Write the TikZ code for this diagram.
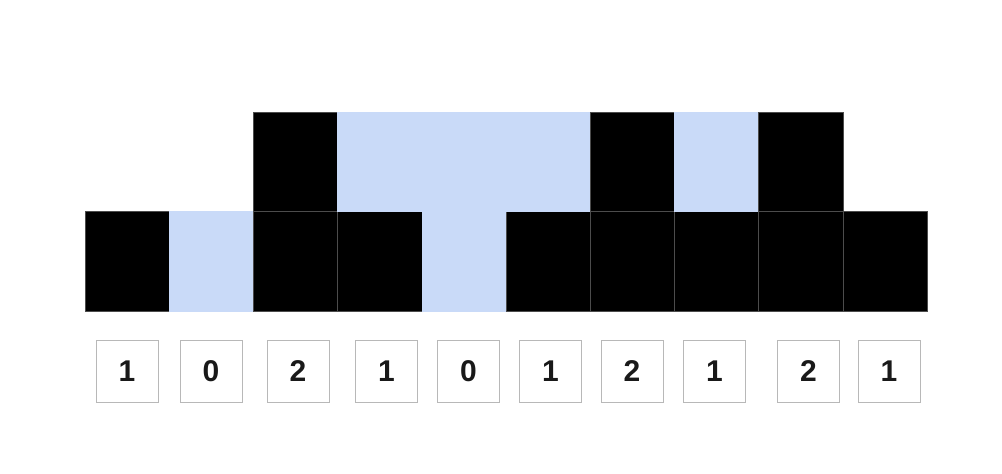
\documentclass[tikz,border=0pt]{standalone}
\usepackage{fontspec}
\setmainfont{Liberation Sans}
\usepackage{tikz}

\begin{document}
\begin{tikzpicture}[x=1pt,y=-1pt,
  every node/.append style={font=\fontsize{30}{30}\selectfont\bfseries}]
  \tikzstyle{wall} = [fill=black,draw=black!70,line width=0.5pt]
  \tikzstyle{water} = [fill=waterblue,draw=waterblue,line width=0.5pt]
  \tikzstyle{height} = [draw=black!28,line width=0.8pt,fill=white,minimum size=62pt,inner sep=0pt,text=black!90]
  \definecolor{waterblue}{HTML}{C9DAF8}
  \useasboundingbox (0,0) rectangle (1002,474);
  % bottom row
  \path[wall]  (85,211.5) rectangle (169.2,311);
  \path[water] (169.2,211.5) rectangle (253.4,311);
  \path[wall]  (253.4,211.5) rectangle (337.6,311);
  \path[wall]  (337.6,211.5) rectangle (421.8,311);
  \path[water] (421.8,211.5) rectangle (506,311);
  \path[wall]  (506,211.5) rectangle (590.2,311);
  \path[wall]  (590.2,211.5) rectangle (674.4,311);
  \path[wall]  (674.4,211.5) rectangle (758.6,311);
  \path[wall]  (758.6,211.5) rectangle (842.8,311);
  \path[wall]  (842.8,211.5) rectangle (927,311);
  % top row
  \path[wall]  (253.4,112) rectangle (337.6,211.5);
  \path[water] (337.6,112) rectangle (421.8,211.5);
  \path[water] (421.8,112) rectangle (506,211.5);
  \path[water] (506,112) rectangle (590.2,211.5);
  \path[wall]  (590.2,112) rectangle (674.4,211.5);
  \path[water] (674.4,112) rectangle (758.6,211.5);
  \path[wall]  (758.6,112) rectangle (842.8,211.5);
  % heights
  \node (h_1) [height] at (127,371) {1};
  \node (h_2) [height] at (211,371) {0};
  \node (h_3) [height] at (298,371) {2};
  \node (h_4) [height] at (386.5,371) {1};
  \node (h_5) [height] at (468.5,371) {0};
  \node (h_6) [height] at (550.5,371) {1};
  \node (h_7) [height] at (632,371) {2};
  \node (h_8) [height] at (714.5,371) {1};
  \node (h_9) [height] at (808.5,371) {2};
  \node (h_10) [height] at (889,371) {1};
\end{tikzpicture}
\end{document}
